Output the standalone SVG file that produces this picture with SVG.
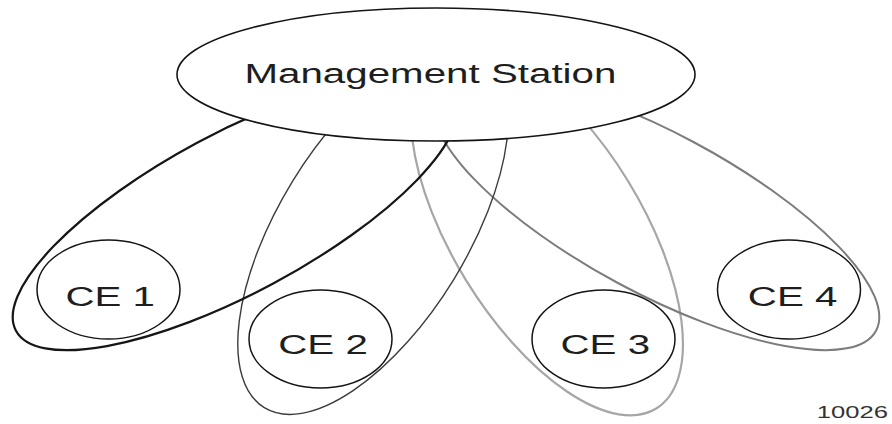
<svg xmlns="http://www.w3.org/2000/svg" width="892" height="424" viewBox="0 0 892 424">
  <style>
    .loop { fill: none; }
    .l1 { stroke: #161616; stroke-width: 2.2; }
    .l2 { stroke: #3c3c3c; stroke-width: 1.4; }
    .l3 { stroke: #a6a6a6; stroke-width: 2.2; }
    .l4 { stroke: #7c7c7c; stroke-width: 2; }
    .station { fill: #ffffff; stroke: #141414; stroke-width: 1.6; }
    .ce { fill: none; stroke: #141414; stroke-width: 1.5; }
    .lbl { font-family: "Liberation Sans", Arial, sans-serif; font-size: 28px; fill: #1e1e1e; text-anchor: middle; }
    .fig { font-family: "Liberation Sans", Arial, sans-serif; font-size: 16px; fill: #333333; text-anchor: end; }
  </style>
  <rect width="892" height="424" fill="#ffffff"/>

  <!-- association rings from the station to each CE -->
  <g id="connectors">
    <ellipse id="ring-ce3" class="loop l3" cx="546.9" cy="230.4" rx="209" ry="95" transform="rotate(58.46 546.9 230.4)"/>
    <ellipse id="ring-ce4" class="loop l4" cx="656.6" cy="213" rx="249" ry="80" transform="rotate(28.2 656.6 213)"/>
    <ellipse id="ring-ce2" class="loop l2" cx="373.1" cy="230.4" rx="208" ry="94.4" transform="rotate(-58.46 373.1 230.4)"/>
    <ellipse id="ring-ce1" class="loop l1" cx="235.4" cy="213" rx="249" ry="80" transform="rotate(-28.2 235.4 213)"/>
  </g>

  <g id="management-station">
    <ellipse class="station" cx="436" cy="74.5" rx="259" ry="66.5"/>
    <text class="lbl" transform="translate(430.4 83) scale(1.44 1)">Management Station</text>
  </g>

  <g id="ce1">
    <ellipse class="ce" cx="108.5" cy="289.5" rx="71.5" ry="49.5"/>
    <text class="lbl" transform="translate(110.2 306) scale(1.44 1)">CE 1</text>
  </g>
  <g id="ce2">
    <ellipse class="ce" cx="320.5" cy="339" rx="71.5" ry="49"/>
    <text class="lbl" transform="translate(323 354) scale(1.44 1)">CE 2</text>
  </g>
  <g id="ce3">
    <ellipse class="ce" cx="603.5" cy="339" rx="71.5" ry="49"/>
    <text class="lbl" transform="translate(605.3 354) scale(1.44 1)">CE 3</text>
  </g>
  <g id="ce4">
    <ellipse class="ce" cx="789" cy="289.5" rx="71.5" ry="49.5"/>
    <text class="lbl" transform="translate(792.6 306) scale(1.44 1)">CE 4</text>
  </g>

  <text class="fig" transform="translate(888 418) scale(1.6 1)">10026</text>
</svg>
